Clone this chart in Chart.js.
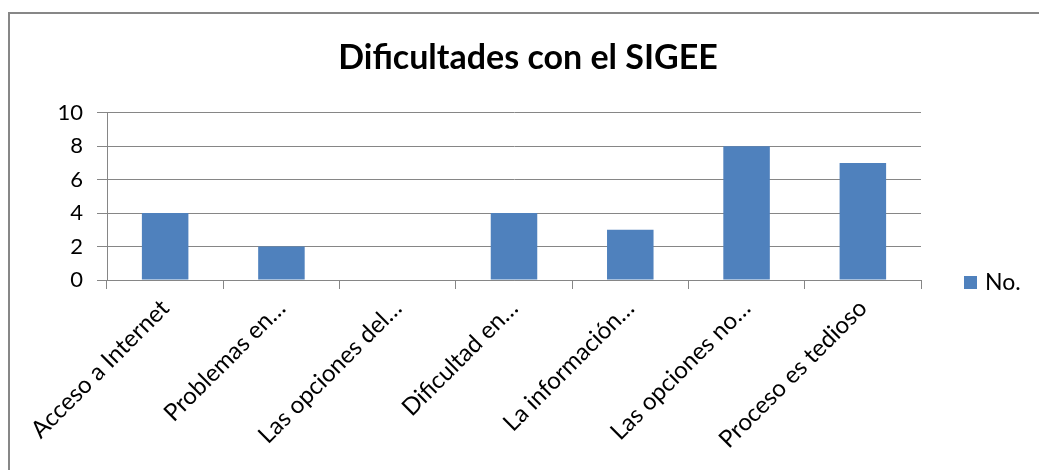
<!DOCTYPE html>
<html>
<head>
<meta charset="utf-8">
<script src="https://cdn.jsdelivr.net/npm/chart.js@4.4.0/dist/chart.umd.min.js"></script>
<style>
  html, body { margin: 0; padding: 0; background: #fff; overflow: hidden; }
  #wrap { position: relative; width: 1039px; height: 470px; }
  #frame {
    position: absolute; left: 8px; top: 12px; width: 1100px; height: 500px;
    border-left: 2px solid #878787; border-top: 2px solid #878787;
    pointer-events: none;
  }
  canvas { position: absolute; left: 0; top: 0; }
</style>
</head>
<body>
<div id="wrap">
  <canvas id="chart" width="1039" height="470"></canvas>
  <div id="frame"></div>
</div>
<script>
// data
const categories = [
  "Acceso a Internet",
  "Problemas en…",
  "Las opciones del…",
  "Dificultad en…",
  "La información…",
  "Las opciones no…",
  "Proceso es tedioso",
];
const values = [4, 2, 0, 4, 3, 8, 7];
const seriesName = "No.";
const yMin = 0;
const yMax = 10;
const yStep = 2;

const font = "Lato, 'Open Sans', sans-serif";
const gridColor = "#868686";
const barColor = "#4F81BD";

// legend drawn beside the plot, level with the x axis (Excel style)
const sideLegend = {
  id: "sideLegend",
  afterDraw(chart) {
    const { ctx, chartArea } = chart;
    const ds = chart.data.datasets[0];
    const x = chartArea.right + 43;
    const y = chartArea.bottom - 4;
    ctx.save();
    ctx.fillStyle = ds.backgroundColor;
    ctx.fillRect(x, y, 13, 13);
    ctx.fillStyle = "#000";
    ctx.font = "23px " + font;
    ctx.textBaseline = "middle";
    ctx.textAlign = "left";
    ctx.fillText(ds.label, x + 21, y + 7);
    ctx.restore();
  },
};

new Chart(document.getElementById("chart"), {
  type: "bar",
  data: {
    labels: categories,
    datasets: [
      {
        label: seriesName,
        data: values,
        backgroundColor: barColor,
        barPercentage: 0.4,
        categoryPercentage: 1.0,
      },
    ],
  },
  options: {
    responsive: false,
    animation: false,
    layout: {
      padding: { left: 17, right: 0, top: 0, bottom: 0 },
    },
    plugins: {
      title: {
        display: true,
        text: "Dificultades con el SIGEE",
        color: "#000",
        font: { family: font, size: 34, weight: "bold" },
        padding: { top: 38, bottom: 34 },
      },
      legend: { display: false },
      tooltip: { enabled: false },
    },
    scales: {
      x: {
        offset: true,
        grid: {
          offset: true,
          drawOnChartArea: false,
          drawTicks: true,
          tickLength: 9,
          color: gridColor,
        },
        border: { display: true, color: gridColor },
        ticks: {
          autoSkip: false,
          minRotation: 45,
          maxRotation: 45,
          padding: 5,
          color: "#000",
          font: { family: font, size: 24 },
        },
        afterFit: (scale) => {
          scale.height = 190;
        },
      },
      y: {
        min: yMin,
        max: yMax,
        ticks: {
          stepSize: yStep,
          padding: 14,
          color: "#000",
          font: { family: font, size: 22 },
        },
        grid: { color: gridColor, tickLength: 10 },
        border: { display: true, color: gridColor },
        afterFit: (scale) => {
          scale.width = 90;
        },
      },
      // empty right axis that keeps room for the legend
      side: {
        position: "right",
        display: true,
        grid: { display: false },
        border: { display: false },
        ticks: { display: false },
        afterFit: (scale) => {
          scale.width = 118;
        },
      },
    },
  },
  plugins: [sideLegend],
});
</script>
</body>
</html>
